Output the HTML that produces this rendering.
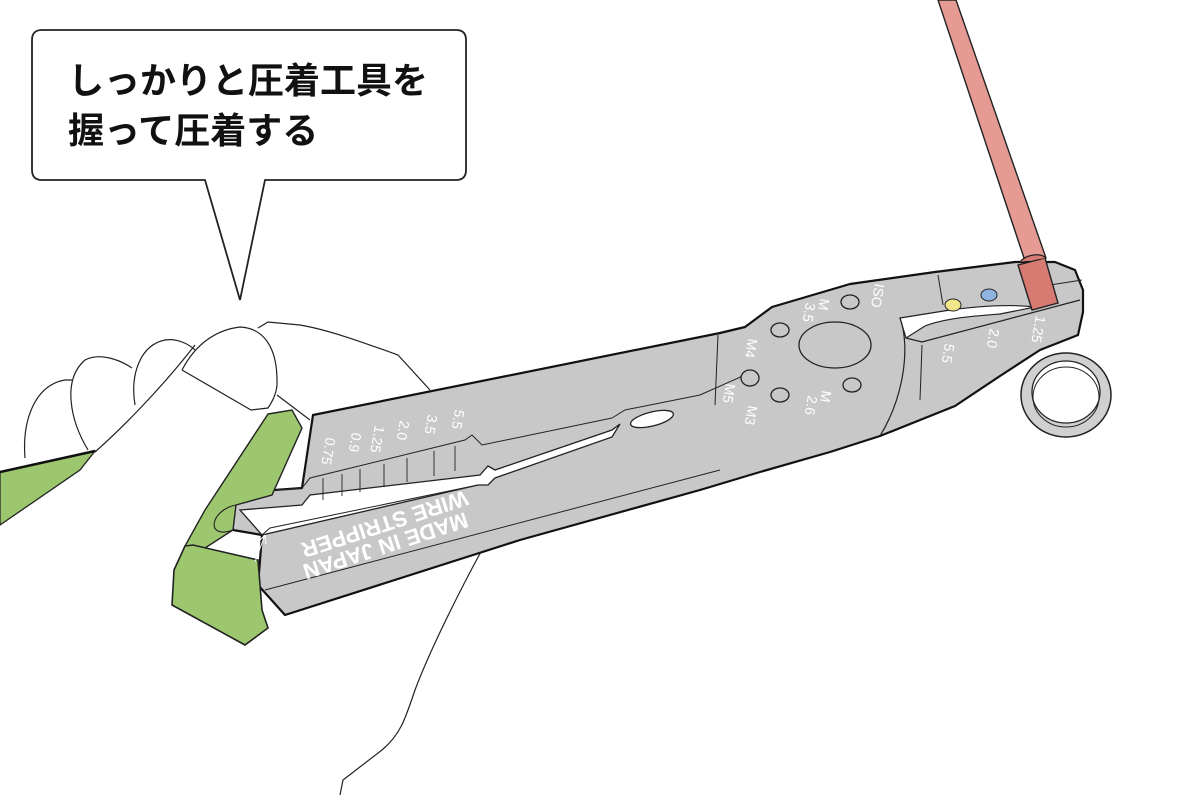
<!DOCTYPE html>
<html><head><meta charset="utf-8"><style>
html,body{margin:0;padding:0;background:#fff;width:1200px;height:795px;overflow:hidden}
svg{display:block}
.t{font-family:"Liberation Sans","Noto Sans CJK JP",sans-serif;font-weight:bold}
.s{font-family:"Liberation Sans",sans-serif;fill:#fff}
</style></head><body>
<svg width="1200" height="795" viewBox="0 0 1200 795" xmlns="http://www.w3.org/2000/svg">
<!-- hand -->
<g fill="none" stroke="#222" stroke-width="1.2">
<path d="M25,458 C22,420 35,385 65,380 L72,380"/>
<path d="M88,450 C70,420 62,380 85,360 C100,352 120,360 132,368"/>
<path d="M135,405 C130,375 140,345 165,340 C178,338 190,345 195,350"/>
<path d="M182,370 C195,345 215,330 240,327 C262,328 278,345 277,385 C276,395 272,402 268,408 L251,410 L182,370"/>
<path d="M258,328 L268,322 L300,325 C330,330 370,345 398,355 L430,390"/>
<path d="M277,395 L310,420"/>
<path d="M95,452 C120,430 160,390 195,345"/>
<path d="M483,548 C460,590 430,650 415,690 C405,720 400,735 382,750 L343,780 L340,795"/>
</g>
<!-- left green sleeve -->
<path d="M0,472 L95,451 L80,470 L0,525 Z" fill="#9dc76f" stroke="#222" stroke-width="1.3"/>
<path d="M0,472 L95,451" stroke="#111" stroke-width="2.5"/>
<!-- red wire -->
<path d="M938,0 L956,0 L1046,258 L1026,264 Z" fill="#e59a94" stroke="#222" stroke-width="1.4"/>
<!-- ring terminal -->
<ellipse cx="1066" cy="395" rx="45" ry="42" fill="#d0d0d0" stroke="#222" stroke-width="1.5"/>
<ellipse cx="1066" cy="392" rx="34" ry="31" fill="#fff" stroke="#222" stroke-width="1.3"/>
<ellipse cx="1066" cy="397" rx="33" ry="30" fill="none" stroke="#222" stroke-width="1"/>
<!-- pliers body -->
<path d="M313,415 L720,333 L745,327 L772,307 L850,284 L935,272 L1015,262 L1055,262 L1075,270 L1083,290 L1083,312 L1078,335 L1040,350 L1000,376 L955,406 L880,436 L830,452 L760,472 L700,490 L520,540 L285,615 L258,585 L262,535 L233,530 L232,493 L302,488 Z" fill="#c8c8c8" stroke="#111" stroke-width="2.2" stroke-linejoin="round"/>
<!-- gap between handles -->
<path d="M240,510 L302,505 L310,495 L480,475 L488,466 L495,470 L612,430 L620,424 L612,437 L495,478 L488,485 L478,485 L262,535 Z" fill="#fff" stroke="#222" stroke-width="1.3"/>
<path d="M232,493 L302,488 L310,478 L465,440 L472,435 L482,445 L612,418" fill="none" stroke="#222" stroke-width="1"/>
<g stroke="#222" stroke-width="0.9">
<line x1="323" y1="478" x2="323" y2="500"/><line x1="342" y1="474" x2="342" y2="496"/><line x1="360" y1="469" x2="360" y2="492"/><line x1="384" y1="464" x2="384" y2="487"/><line x1="407" y1="458" x2="407" y2="482"/><line x1="434" y1="451" x2="434" y2="476"/><line x1="455" y1="446" x2="455" y2="471"/>
</g>
<path d="M262,535 L270,528 L478,485" fill="none" stroke="#222" stroke-width="1"/>
<path d="M265,590 L720,470" fill="none" stroke="#222" stroke-width="1"/>
<ellipse cx="652" cy="419" rx="22" ry="7" transform="rotate(-14 652 419)" fill="#fff" stroke="#222" stroke-width="1.3"/>
<path d="M612,418 L625,410 L700,395 L745,375" fill="none" stroke="#222" stroke-width="1"/>
<line x1="718" y1="335" x2="715" y2="405" stroke="#222" stroke-width="1"/>
<!-- head details -->
<path d="M900,318 L906,338 L925,326 C945,318 975,316 1000,314 L1035,307 C1010,304 980,306 950,310 Z" fill="#fff" stroke="#222" stroke-width="1.2"/>
<path d="M906,338 L922,342 L1080,300" fill="none" stroke="#222" stroke-width="1.3"/>
<path d="M900,318 C910,345 905,395 880,436" fill="none" stroke="#222" stroke-width="1.2"/>
<line x1="938" y1="275" x2="943" y2="305" stroke="#222" stroke-width="1"/>
<line x1="922" y1="345" x2="920" y2="400" stroke="#222" stroke-width="1"/>
<line x1="1050" y1="285" x2="1082" y2="280" stroke="#222" stroke-width="1"/>
<g fill="#c8c8c8" stroke="#222" stroke-width="1.3">
<ellipse cx="835" cy="345" rx="36" ry="23"/>
<ellipse cx="850" cy="302" rx="9" ry="7"/><ellipse cx="780" cy="330" rx="9" ry="7"/>
<ellipse cx="750" cy="378" rx="9" ry="8"/><ellipse cx="780" cy="395" rx="9" ry="7"/><ellipse cx="852" cy="385" rx="9" ry="7"/>
</g>
<ellipse cx="953" cy="305" rx="8" ry="6" fill="#f2e68a" stroke="#222"/>
<ellipse cx="989" cy="295" rx="8" ry="6" fill="#8fb4e0" stroke="#222"/>
<!-- crimp sleeve on wire -->
<path d="M1018,265 L1045,258 L1058,303 L1032,310 Z" fill="#d77a72" stroke="#222" stroke-width="1.4"/>
<path d="M1020,262 C1025,255 1040,252 1046,258" fill="#d77a72" stroke="#222" stroke-width="1.2"/>
<!-- green sleeves on handles -->
<path d="M268,414 L292,410 L302,428 L272,495 L236,505 L233,530 L205,548 L185,546 L205,510 Z" fill="#9dc76f" stroke="#222" stroke-width="1.4"/>
<path d="M236,505 C210,510 205,540 233,530" fill="none" stroke="#222" stroke-width="1.1"/>
<path d="M185,546 L193,545 L258,560 L262,610 L268,628 L245,645 L172,605 L174,570 Z" fill="#9dc76f" stroke="#222" stroke-width="1.6"/>
<!-- labels -->
<g class="s" font-size="22" font-weight="bold">
<text transform="translate(465,512) rotate(162)">MADE IN JAPAN</text>
<text transform="translate(465,490) rotate(162)">WIRE STRIPPER</text>
</g>
<g class="s" font-size="14">
<text transform="translate(326,437) rotate(100)">0.75</text>
<text transform="translate(352,432) rotate(100)">0.9</text>
<text transform="translate(375,425) rotate(100)">1.25</text>
<text transform="translate(400,420) rotate(100)">2.0</text>
<text transform="translate(428,414) rotate(100)">3.5</text>
<text transform="translate(455,409) rotate(100)">5.5</text>
<text transform="translate(748,338) rotate(100)">M4</text>
<text transform="translate(726,383) rotate(100)">M5</text>
<text transform="translate(748,405) rotate(100)">M3</text>
<text transform="translate(822,390) rotate(100)">M</text>
<text transform="translate(808,395) rotate(100)">2.6</text>
<text transform="translate(820,298) rotate(100)">M</text>
<text transform="translate(806,302) rotate(100)">3.5</text>
<text transform="translate(875,283) rotate(100)">ISO</text>
<text transform="translate(945,343) rotate(100)">5.5</text>
<text transform="translate(990,328) rotate(100)">2.0</text>
<text transform="translate(1036,315) rotate(100)">1.25</text>
</g>
<g stroke="#fff" stroke-width="1" fill="none">
<path d="M298,458 L283,488 M283,488 L282,478 M283,488 L290,482"/>
<path d="M255,562 L265,535 M265,535 L259,541 M265,535 L266,544"/>
</g>
<!-- speech bubble -->
<path d="M42,30 H456 Q466,30 466,40 V170 Q466,180 456,180 H265 L240,300 L205,180 H42 Q32,180 32,170 V40 Q32,30 42,30 Z" fill="#fff" stroke="#222" stroke-width="1.8"/>
<text class="t" x="68" y="93" font-size="36" fill="#111">しっかりと圧着工具を</text>
<text class="t" x="68" y="143" font-size="36" fill="#111">握って圧着する</text>
</svg>
</body></html>
